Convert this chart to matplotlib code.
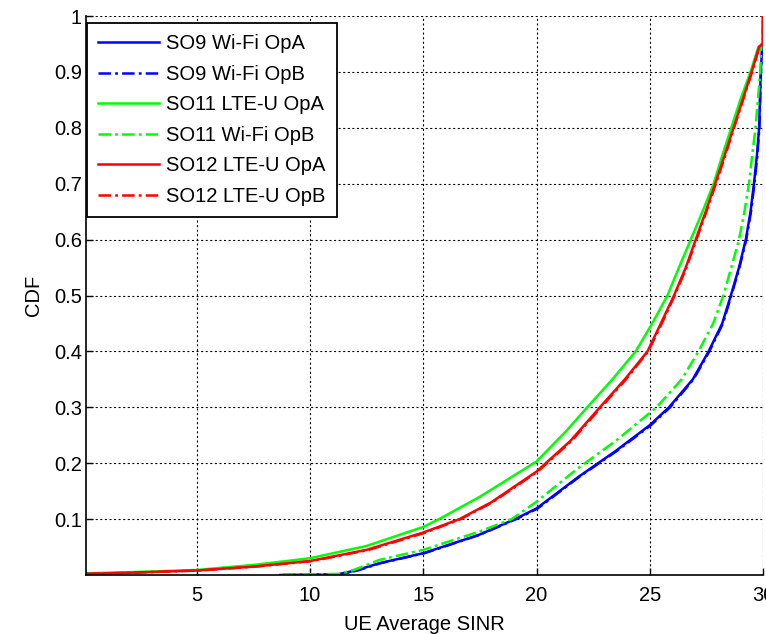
import matplotlib
matplotlib.use('Agg')
import matplotlib.pyplot as plt

# CDF of UE average SINR per scenario / operator
# (x = SINR in dB, y = cumulative probability)
so9_opa_x = [8.7, 11.2, 12.0, 13.06, 15.0, 17.47, 19.05, 20.0, 21.87, 23.5, 25.0, 25.85,
             26.9, 27.6, 28.2, 28.58, 28.94, 29.24, 29.45, 29.6, 29.73, 29.83, 29.9, 29.96, 30.0, 30.0]
so9_opa_y = [0.0, 0.001, 0.008, 0.021, 0.039, 0.072, 0.1, 0.119, 0.176, 0.222, 0.268, 0.3,
             0.35, 0.4, 0.45, 0.5, 0.55, 0.6, 0.65, 0.7, 0.75, 0.8, 0.9, 0.94, 0.945, 1.0]

so9_opb_x = [8.8, 11.3, 12.1, 13.1, 15.05, 17.5, 19.1, 20.05, 21.9, 23.55, 25.05, 25.9,
             26.93, 27.63, 28.23, 28.6, 28.96, 29.26, 29.47, 29.62, 29.75, 29.84, 29.91, 29.96, 30.0, 30.0]
so9_opb_y = [0.0, 0.001, 0.008, 0.021, 0.039, 0.072, 0.1, 0.119, 0.176, 0.222, 0.268, 0.3,
             0.35, 0.4, 0.45, 0.5, 0.55, 0.6, 0.65, 0.7, 0.75, 0.8, 0.9, 0.94, 0.945, 1.0]

so11_opa_x = [0.11, 2.0, 5.0, 7.5, 10.0, 12.5, 15.0, 15.7, 17.5, 20.0, 21.3, 22.24, 23.35,
              24.38, 25.11, 25.78, 26.29, 26.81, 27.33, 27.82, 28.2, 28.6, 29.0, 29.45, 29.8, 30.0, 30.0]
so11_opa_y = [0.003, 0.005, 0.009, 0.018, 0.03, 0.052, 0.086, 0.1, 0.14, 0.203, 0.257, 0.3, 0.35,
              0.4, 0.45, 0.5, 0.55, 0.6, 0.65, 0.7, 0.75, 0.8, 0.85, 0.9, 0.945, 0.95, 1.0]

so11_opb_x = [8.7, 11.3, 12.0, 13.06, 15.0, 17.5, 18.9, 20.0, 21.8, 23.5, 25.3, 26.41, 27.15,
              27.8, 28.25, 28.6, 28.94, 29.18, 29.38, 29.52, 29.67, 29.88, 29.93, 30.0, 30.0]
so11_opb_y = [0.0, 0.002, 0.01, 0.027, 0.045, 0.078, 0.1, 0.131, 0.19, 0.24, 0.3, 0.35, 0.4,
              0.45, 0.5, 0.55, 0.6, 0.65, 0.7, 0.75, 0.8, 0.9, 0.95, 0.955, 1.0]

so12_opa_x = [0.11, 2.0, 5.0, 7.5, 10.0, 12.5, 15.0, 16.6, 18.0, 20.0, 21.5, 22.8, 23.9,
              24.9, 25.49, 26.07, 26.59, 27.03, 27.47, 27.89, 28.3, 28.7, 29.1, 29.5, 29.83, 30.0, 30.0]
so12_opa_y = [0.002, 0.004, 0.008, 0.015, 0.025, 0.045, 0.076, 0.1, 0.13, 0.185, 0.24, 0.3, 0.35,
              0.4, 0.45, 0.5, 0.55, 0.6, 0.65, 0.7, 0.75, 0.8, 0.85, 0.9, 0.945, 0.95, 1.0]

so12_opb_x = [0.15, 2.1, 5.1, 7.6, 10.1, 12.6, 15.1, 16.65, 18.05, 20.05, 21.55, 22.85, 23.95,
              24.93, 25.53, 26.1, 26.62, 27.06, 27.5, 27.92, 28.33, 28.72, 29.12, 29.52, 29.84, 30.0, 30.0]
so12_opb_y = [0.002, 0.004, 0.008, 0.015, 0.025, 0.045, 0.076, 0.1, 0.13, 0.185, 0.24, 0.3, 0.35,
              0.4, 0.45, 0.5, 0.55, 0.6, 0.65, 0.7, 0.75, 0.8, 0.85, 0.9, 0.945, 0.95, 1.0]

x_ticks = [5, 10, 15, 20, 25, 30]
y_ticks = [0.1, 0.2, 0.3, 0.4, 0.5, 0.6, 0.7, 0.8, 0.9, 1.0]
y_tick_labels = ['0.1', '0.2', '0.3', '0.4', '0.5', '0.6', '0.7', '0.8', '0.9', '1']

plt.rcParams['font.family'] = ['Liberation Sans', 'DejaVu Sans']
plt.rcParams['lines.scale_dashes'] = False

fs = 14.5
fig = plt.figure(figsize=(7.66, 6.34), dpi=100)
ax = fig.add_axes([86 / 766, 59 / 634, 677 / 766, 559 / 634])

dashdot = (0, (9, 3, 2, 3))
lw = 1.8
ax.plot(so9_opa_x, so9_opa_y, color='#0000ff', lw=lw, ls='-', label='SO9 Wi-Fi OpA')
ax.plot(so9_opb_x, so9_opb_y, color='#0000ff', lw=lw, ls=dashdot, label='SO9 Wi-Fi OpB')
ax.plot(so11_opa_x, so11_opa_y, color='#00ff00', lw=lw, ls='-', label='SO11 LTE-U OpA')
ax.plot(so11_opb_x, so11_opb_y, color='#00ff00', lw=lw, ls=dashdot, label='SO11 Wi-Fi OpB')
ax.plot(so12_opa_x, so12_opa_y, color='#ff0000', lw=lw, ls='-', label='SO12 LTE-U OpA')
ax.plot(so12_opb_x, so12_opb_y, color='#ff0000', lw=lw, ls=dashdot, label='SO12 LTE-U OpB')

ax.set_xlim(0.11, 30)
ax.set_ylim(0, 1)
ax.set_xticks(x_ticks)
ax.set_yticks(y_ticks)
ax.set_yticklabels(y_tick_labels)
ax.tick_params(direction='in', length=5, width=1, labelsize=fs, colors='black')
ax.tick_params(axis='x', pad=8)
ax.tick_params(axis='y', pad=3)

ax.grid(True, color='black', ls=(0, (1.5, 1.8)), lw=0.8)
for side in ['top', 'right']:
    ax.spines[side].set_visible(False)
for side in ['left', 'bottom']:
    ax.spines[side].set_linewidth(1.2)

ax.set_xlabel('UE Average SINR', fontsize=fs, labelpad=7)
ax.set_ylabel('CDF', fontsize=fs, labelpad=8)

leg = ax.legend(loc='upper left', bbox_to_anchor=(1 / 677, 1 - 7 / 559), borderaxespad=0,
                fontsize=fs, fancybox=False, framealpha=1, edgecolor='black',
                handlelength=3.0, handletextpad=0.36, labelspacing=0.57, borderpad=0.56)
leg.get_frame().set_linewidth(1.3)

plt.savefig('out.png', dpi=100)
